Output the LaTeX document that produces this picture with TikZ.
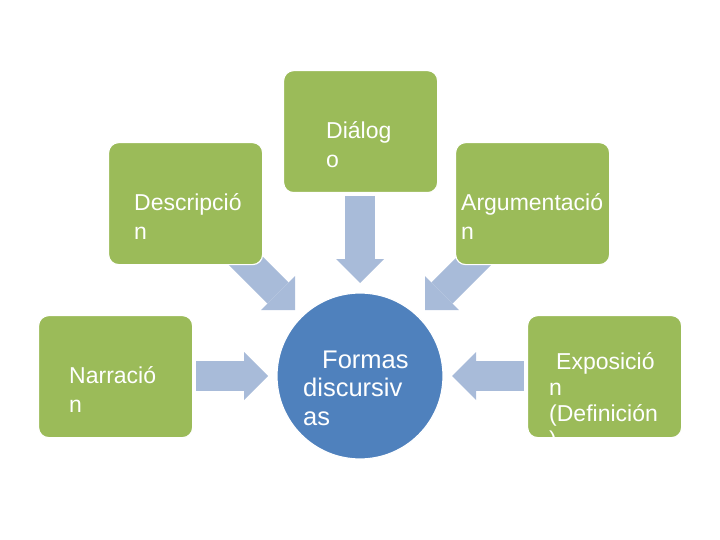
\documentclass[tikz,border=0pt]{standalone}
\usepackage{fontspec}
\setmainfont{Liberation Sans}
\usetikzlibrary{arrows.meta}
\definecolor{boxgreen}{RGB}{155,187,89}
\definecolor{circblue}{RGB}{79,129,189}
\definecolor{arrowblue}{RGB}{168,187,217}
\tikzset{
  greenbox/.style={draw=white, line width=1.2pt, fill=boxgreen, rounded corners=10pt,
    minimum width=154pt, minimum height=122pt, anchor=north west, inner sep=0pt},
  boxtext/.style={anchor=base west, inner sep=0pt, text=white, font=\fontsize{23}{29}\selectfont},
  exptext/.style={anchor=base west, inner sep=0pt, text=white, font=\fontsize{23}{26}\selectfont},
  circtext/.style={anchor=base west, inner sep=0pt, text=white, font=\fontsize{25.5}{28.5}\selectfont},
  blockarrow/.style={draw=arrowblue, line width=30pt, line cap=butt,
    -{Triangle[width=48pt,length=24pt,line width=0pt]}},
}
\newcommand\txtlines[1]{\begin{tabular}[t]{@{}l@{}}#1\end{tabular}}
\begin{document}
\begin{tikzpicture}[x=1pt,y=-1pt]
\useasboundingbox (0,0) rectangle (720,540);
% arrow end points
\coordinate (dlgT) at (360,196);  \coordinate (dlgH) at (360,283);
\coordinate (desT) at (230,245);  \coordinate (desH) at (295,310);
\coordinate (argT) at (490,245);  \coordinate (argH) at (425,310);
\coordinate (narT) at (196,376);  \coordinate (narH) at (268,376);
\coordinate (expT) at (524,376);  \coordinate (expH) at (452,376);
\draw[blockarrow] (dlgT) -- (dlgH);
\draw[blockarrow] (desT) -- (desH);
\draw[blockarrow] (argT) -- (argH);
\draw[blockarrow] (narT) -- (narH);
\draw[blockarrow] (expT) -- (expH);
% boxes
\node[greenbox] (dlg) at (283,70) {};
\node[greenbox] (des) at (108,142) {};
\node[greenbox] (arg) at (455,142) {};
\node[greenbox] (nar) at (38,315) {};
\node[greenbox] (exp) at (527,315) {};
% centre circle
\node[circle, fill=circblue, draw=white, line width=1.2pt, minimum size=166pt, inner sep=0pt] (fd) at (360,376) {};
% texts
\node[boxtext] (dlgtxt) at (326,139) {\txtlines{Diálog\\o}};
\node[boxtext] (destxt) at (134,211) {\txtlines{Descripció\\n}};
\node[boxtext] (argtxt) at (461,211) {\txtlines{Argumentació\\n}};
\node[boxtext] (nartxt) at (69,383) {\txtlines{Narració\\n}};
\node[exptext] (exptxt) at (549,369) {\txtlines{\hspace{7pt}Exposició\\n\\(Definición\\)}};
\node[circtext] (fdtxt) at (303,368) {\txtlines{\hspace{19pt}Formas\\discursiv\\as}};
\end{tikzpicture}
\end{document}
